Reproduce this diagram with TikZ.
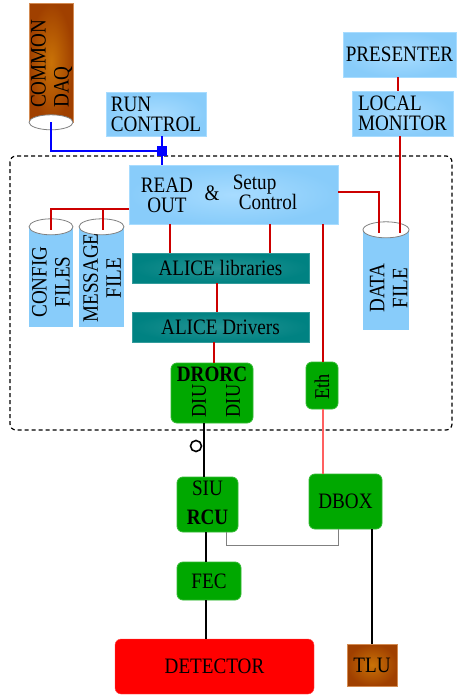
\documentclass[tikz,border=0pt]{standalone}
\usepackage{fontspec}
\setmainfont{Liberation Serif}[FakeStretch=0.87]
\definecolor{lblue}{HTML}{88CCFA}
\definecolor{lbluel}{HTML}{A8DCFF}
\definecolor{tealc}{HTML}{008282}
\definecolor{grn}{HTML}{00A800}
\definecolor{brn}{HTML}{C05A08}
\definecolor{brnd}{HTML}{A04000}
\definecolor{dred}{HTML}{CC0000}
\definecolor{pinkl}{HTML}{FF6060}
\begin{document}
\begin{tikzpicture}[x=1pt,y=-1pt,
  txt/.style={inner sep=0pt, font=\fontsize{22}{20}\selectfont, text=black},
  rtxt/.style={inner sep=0pt, font=\fontsize{22}{23}\selectfont, text=black, rotate=90, align=center},
  bluebox/.style={draw=lbluel, line width=0.6pt, inner color=lbluel, outer color=lblue, inner sep=0pt, font=\fontsize{22}{20}\selectfont, align=left},
  tealbox/.style={draw=tealc!80!white, line width=0.6pt, inner color=tealc!85!white, outer color=tealc, inner sep=0pt, font=\fontsize{22}{20}\selectfont},
  grnbox/.style={draw=grn!80!white, line width=0.8pt, fill=grn, rounded corners=6pt, inner sep=0pt, font=\fontsize{22}{20}\selectfont, align=center},
  brnbox/.style={draw=brn!70!white, line width=0.6pt, inner color=brn!85!yellow, outer color=brnd, inner sep=0pt},
  cylbody/.style={draw=none, inner sep=0pt},
  cyltop/.style={draw=gray, line width=0.8pt, fill=white},
  redl/.style={draw=dred, line width=2pt},
  bluel/.style={draw=blue, line width=2.5pt},
  blackl/.style={draw=black, line width=2pt},
  grayl/.style={draw=gray, line width=1pt}
]
\useasboundingbox (0,0) rectangle (458,699);
\fill[white] (0,0) rectangle (458,699);

% dashed frame
\draw[dashed, line width=1.2pt, rounded corners=6pt, dash pattern=on 4pt off 3pt] (10,156) rectangle (452,430);

% top boxes
\node[bluebox, minimum width=100pt, minimum height=44pt] (runctl) at (156,114) {RUN\\CONTROL};
\node[bluebox, minimum width=113pt, minimum height=45pt] (presenter) at (399.5,54.5) {PRESENTER};
\node[bluebox, minimum width=101pt, minimum height=45pt] (locmon) at (402.5,113.5) {LOCAL\\MONITOR};

% common daq cylinder
\node[brnbox, minimum width=44pt, minimum height=119pt] (cdaq) at (51,62.5) {};
\draw[cyltop] (cdaq.south) ellipse [x radius=22pt, y radius=7.5pt];
\node[rtxt, anchor=west, align=left] (cdaqtxt) at (51.5,108) {COMMON\\DAQ};

% readout
\node[bluebox, minimum width=209pt, minimum height=59pt] (readout) at (233.5,194.5) {};
\node[txt, align=center] (readtxt) at (167,195) {READ\\OUT};
\node[txt] (amp) at (212,193) {\&};
\node[txt, align=left] (setuptxt) at (265,192.5) {Setup\\\hspace*{6pt}Control};

% cylinders inside
\node[cylbody, fill=lblue, minimum width=44pt, minimum height=100pt] (config) at (51,277) {};
\draw[cyltop] (config.north) ellipse [x radius=22pt, y radius=8pt];
\node[rtxt] (configtxt) at (51,282) {CONFIG\\FILES};
\node[cylbody, fill=lblue, minimum width=45pt, minimum height=100pt] (msg) at (101.5,277) {};
\draw[cyltop] (msg.north) ellipse [x radius=22.5pt, y radius=8pt];
\node[rtxt] (msgtxt) at (102,278) {MESSAGE\\FILE};
\node[cylbody, fill=lblue, minimum width=46pt, minimum height=100pt] (datafile) at (386,280) {};
\draw[cyltop] (datafile.north) ellipse [x radius=23pt, y radius=8pt];
\node[rtxt] (datatxt) at (388.5,288) {DATA\\FILE};

% alice
\node[tealbox, minimum width=177pt, minimum height=30pt] (alib) at (220.5,268) {ALICE libraries};
\node[tealbox, minimum width=177pt, minimum height=30pt] (adrv) at (220.5,327) {ALICE Drivers};

% green boxes
\node[grnbox, minimum width=82pt, minimum height=60pt] (drorc) at (212,393) {};
\node[txt, font=\fontsize{22}{20}\selectfont\bfseries] (drorctxt) at (212,374) {DRORC};
\node[rtxt, font=\fontsize{21}{20}\selectfont] (diu1) at (199,401) {DIU};
\node[rtxt, font=\fontsize{21}{20}\selectfont] (diu2) at (233,401) {DIU};
\node[grnbox, minimum width=32pt, minimum height=47pt] (eth) at (322,385.5) {};
\node[rtxt, font=\fontsize{21}{20}\selectfont] (ethtxt) at (322,387) {Eth};
\node[grnbox, minimum width=61pt, minimum height=55pt] (siu) at (207.5,504.5) {};
\node[txt] (siutxt) at (207.5,488) {SIU};
\node[txt, font=\fontsize{22}{20}\selectfont\bfseries] (rcutxt) at (207.5,517) {RCU};
\node[grnbox, minimum width=73pt, minimum height=55pt] (dbox) at (345.5,501.5) {DBOX};
\node[grnbox, minimum width=64pt, minimum height=38pt] (fec) at (209,581) {FEC};
\node[draw=red!70!white, fill=red, rounded corners=6pt, minimum width=199pt, minimum height=55pt, inner sep=0pt, font=\fontsize{22}{20}\selectfont] (detector) at (214.5,666.5) {DETECTOR};
\node[brnbox, minimum width=50pt, minimum height=42pt, font=\fontsize{22}{20}\selectfont] (tlu) at (372,665) {TLU};

% blue connectors
\node[fill=blue, minimum size=10pt, inner sep=0pt] (sq) at (162,151) {};
\draw[bluel] (cdaq.south) |- (sq);
\draw[bluel] (sq |- runctl.south) -- (sq |- readout.north);

% red connectors
\draw[redl] (readout.west |- 0,209) -| ([yshift=-3pt]config.north);
\draw[redl] ([xshift=1.5pt]msg.north |- 0,209) -- ([xshift=1.5pt,yshift=-3pt]msg.north);
\draw[redl] (readout.east |- 0,192) -| ([xshift=-7pt,yshift=-3pt]datafile.north);
\draw[redl] ([xshift=14pt]datafile.north |- locmon.south) -- ([xshift=14pt,yshift=-3pt]datafile.north);
\draw[redl] ([xshift=-2pt]presenter.south) -- ([xshift=-2pt]presenter.south |- locmon.north);
\draw[redl] ([xshift=-63.5pt]readout.south) -- ([xshift=-63.5pt]readout.south |- alib.north);
\draw[redl] ([xshift=36.5pt]readout.south) -- ([xshift=36.5pt]readout.south |- alib.north);
\draw[redl] ([xshift=-3.5pt]alib.south) -- ([xshift=-3.5pt]alib.south |- adrv.north);
\draw[redl] ([xshift=2pt]drorc.north |- adrv.south) -- ([xshift=2pt]drorc.north);
\draw[redl] ([xshift=1pt]eth.north |- readout.south) -- ([xshift=1pt]eth.north);
\draw[draw=pinkl, line width=2pt] ([xshift=1pt]eth.south) -- ([xshift=1pt]eth.south |- dbox.north);

% black connectors
\draw[blackl] ([xshift=-3.5pt]siu.north |- drorc.south) -- ([xshift=-3.5pt]siu.north);
\node[draw=black, line width=1.6pt, circle, minimum size=11pt, inner sep=0pt] (ring) at (196,446) {};
\draw[blackl] ([xshift=-1.5pt]siu.south) -- ([xshift=-1.5pt]siu.south |- fec.north);
\draw[blackl] ([xshift=-3pt]fec.south) -- ([xshift=-3pt]fec.south |- detector.north);
\draw[blackl] (tlu.north |- dbox.south) -- (tlu.north);
\draw[grayl] ([xshift=18.5pt]siu.south) -- ++(0,13) -| ([xshift=-7.5pt]dbox.south);
\end{tikzpicture}
\end{document}
